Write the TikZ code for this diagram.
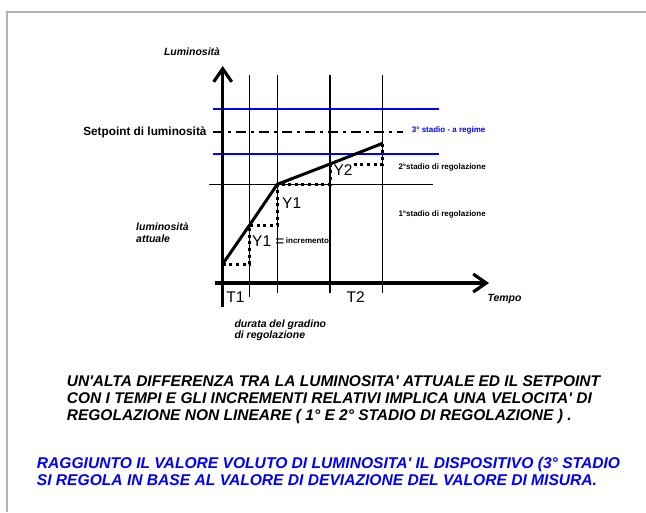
\documentclass[tikz,border=0pt]{standalone}
\usepackage{fontspec}
\setmainfont{Liberation Sans}
\usetikzlibrary{arrows.meta,positioning}

\begin{document}
\begin{tikzpicture}[x=1pt,y=-1pt,
  asse/.style={line width=3.2pt,-{Straight Barb[length=13pt,width=18pt]}},
  griglia/.style={line width=1.4pt},
  curva/.style={line width=3pt,line join=round},
  passo/.style={line width=3pt,dash pattern=on 3pt off 3.6pt},
  lab/.style={font=\bfseries\itshape\fontsize{10.5}{11.6}\selectfont,inner sep=0pt,align=left},
  grande/.style={font=\fontsize{15.5}{17}\selectfont,inner sep=0pt},
  piccolo/.style={font=\bfseries\fontsize{8}{9}\selectfont,inner sep=0pt},
  testo/.style={font=\bfseries\itshape\fontsize{15.5}{16.8}\selectfont,inner sep=0pt,align=left}]
\useasboundingbox (0,0) rectangle (646,512);
\draw[gray!60,line width=1.5pt] (7,512)--(7,12)--(646,12);

% griglia
\foreach \x/\y in {249.3/297,277.3/293,330/293,382.7/293}
  \draw[griglia] (\x,75)--(\x,\y);
\draw[griglia,blue] (212.7,109)--(439,109);
\draw[griglia,blue] (212.7,154)--(439,154);
\draw[griglia] (209,184.3)--(433,184.3);
\draw[line width=2pt,dash pattern=on 10pt off 5pt on 3pt off 5pt] (212.7,131.7)--(403,131.7);

% punti della regolazione
\coordinate (p0) at (222.7,264);
\coordinate (p1) at (249.3,225.5);
\coordinate (p2) at (277.3,184.3);
\coordinate (p3) at (330,164);
\coordinate (p4) at (382.7,143.3);
\draw[passo] (p0) -| (p1) -| (p2) -| (p3) -| (p4);

% etichette
\node[lab] (lum) at (192,51.7) {Luminosità};
\node[font=\bfseries\fontsize{11.8}{12}\selectfont,inner sep=0pt,anchor=east] (setp) at (206.7,132.7) {Setpoint di luminosità};
\node[piccolo,blue,anchor=west] (st3) at (411.7,130) {3° stadio - a regime};
\node[piccolo,anchor=west] (st2) at (398.3,167.3) {2°stadio di regolazione};
\node[piccolo,anchor=west] (st1) at (398.3,214.3) {1°stadio di regolazione};
\node[lab,anchor=west] (att) at (136,232.5) {luminosità\\attuale};
\node[lab,anchor=west,font=\bfseries\itshape\fontsize{10.5}{10.7}\selectfont] (dur) at (234.3,330.3) {durata del gradino\\di regolazione};
\node[lab,anchor=west] (tempo) at (487.3,299.3) {Tempo};
\node[grande] (y1) at (291.7,203.3) {Y1};
\node[grande,fill=white,inner ysep=3pt] (y2) at (343,170) {Y2};
\node[grande,anchor=west] (y1b) at (252,241) {Y1 =};
\node[piccolo,right=1pt of y1b] (incr) {incremento};
\node[grande] (t1) at (235.5,297.3) {T1};
\node[grande] (t2) at (355.7,297.3) {T2};

\draw[curva] (p0)--(p1)--(p2)--(p3)--(p4);
\draw[asse] (222.7,307)--(222.7,66);
\draw[asse] (215,283)--(489,283);

% testo in basso
\node[testo,anchor=west] (nota) at (66.7,399.7) {UN\textquotesingle ALTA DIFFERENZA TRA LA LUMINOSITA\textquotesingle{} ATTUALE ED IL SETPOINT\\CON I TEMPI E GLI INCREMENTI RELATIVI IMPLICA UNA VELOCITA\textquotesingle{} DI\\REGOLAZIONE NON LINEARE ( 1° E 2° STADIO DI REGOLAZIONE ) .};
\node[testo,blue,anchor=west,font=\bfseries\itshape\fontsize{15.6}{16.7}\selectfont] (regime) at (36.7,471.7) {RAGGIUNTO IL VALORE VOLUTO DI LUMINOSITA\textquotesingle{} IL DISPOSITIVO (3° STADIO\\SI REGOLA IN BASE AL VALORE DI DEVIAZIONE DEL VALORE DI MISURA.};
\end{tikzpicture}
\end{document}
